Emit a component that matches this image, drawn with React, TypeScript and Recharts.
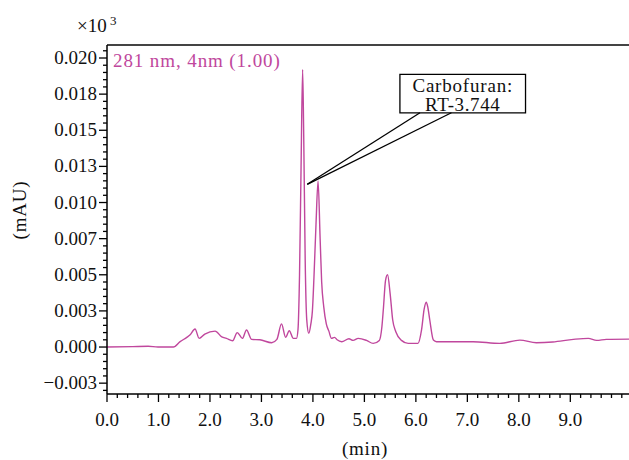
import React from 'react';
import { LineChart, Line, XAxis, YAxis, ReferenceLine, ReferenceArea } from 'recharts';

// retention time (min) and absorbance (x10^3 mAU)
const times = [
  0, 0.5, 0.8, 0.99, 1.29, 1.42, 1.55, 1.61, 1.71, 1.79, 1.9, 2.1, 2.23, 2.32, 2.44,
  2.53, 2.63, 2.71, 2.81, 2.97, 3.2, 3.3, 3.39, 3.47, 3.54, 3.62, 3.68, 3.71, 3.74,
  3.77, 3.8, 3.82, 3.85, 3.88, 3.92, 3.96, 3.99, 4.02, 4.06, 4.1, 4.14, 4.17, 4.21,
  4.26, 4.31, 4.36, 4.42, 4.47, 4.56, 4.7, 4.78, 4.88, 5.04, 5.17, 5.29, 5.34, 5.37,
  5.41, 5.45, 5.5, 5.55, 5.61, 5.72, 5.85, 6.04, 6.11, 6.16, 6.2, 6.23, 6.27, 6.34,
  6.4, 6.63, 7.11, 7.63, 8.02, 8.34, 8.66, 9.06, 9.35, 9.51, 9.7, 10.14,
];
const absorbance = [
  0, 0.00003, 0.00005, 0.0, 0.0, 0.00037, 0.00067, 0.00083, 0.00125, 0.0006, 0.0009,
  0.0011, 0.0007, 0.0006, 0.00044, 0.001, 0.0006, 0.00118, 0.00053, 0.0005, 0.0003,
  0.00053, 0.0016, 0.00067, 0.00113, 0.0006, 0.0006, 0.0012, 0.005, 0.0125, 0.0192,
  0.015, 0.006, 0.0019, 0.00095, 0.0016, 0.0025, 0.0048, 0.0085, 0.0115, 0.0075,
  0.0045, 0.0028, 0.0016, 0.0011, 0.0006, 0.00067, 0.0005, 0.00037, 0.00057, 0.00046,
  0.0006, 0.00046, 0.00025, 0.00046, 0.0014, 0.0027, 0.0046, 0.005, 0.0037, 0.00187,
  0.00106, 0.00046, 0.00025, 0.00025, 0.00118, 0.0026, 0.0031, 0.0028, 0.00187,
  0.00048, 0.00037, 0.00037, 0.00037, 0.00025, 0.00048, 0.0003, 0.00035, 0.00053,
  0.0006, 0.00046, 0.00053, 0.00055,
];

const xMajor = [0, 1, 2, 3, 4, 5, 6, 7, 8, 9];
const xLabels = ['0.0', '1.0', '2.0', '3.0', '4.0', '5.0', '6.0', '7.0', '8.0', '9.0'];
const yMajor = [-0.0025, 0, 0.0025, 0.005, 0.0075, 0.01, 0.0125, 0.015, 0.0175, 0.02];
const yLabels = ['\u22120.003', '0.000', '0.003', '0.005', '0.007', '0.010', '0.013', '0.015', '0.018', '0.020'];

const xTicks: number[] = [];
for (let i = 0; i <= 50; i++) xTicks.push(Math.round(i * 2) / 10);
const yTicks: number[] = [];
for (let i = -6; i <= 41; i++) yTicks.push(Math.round(i * 5) / 10000);

const data = times.map((t, i) => ({ t, v: absorbance[i] }));

const FONT = '"Liberation Serif", "DejaVu Serif", serif';
const PINK = '#c0479d';

const XTick = (props: any) => {
  const { x, y, payload } = props;
  const idx = xMajor.findIndex((m) => Math.abs(m - payload.value) < 1e-6);
  const major = idx >= 0;
  return (
    <g>
      <line x1={x} x2={x} y1={y} y2={y + (major ? 8 : 4)} stroke="#000" strokeWidth={1.3} />
      {major && (
        <text x={x} y={y + 32} textAnchor="middle" fontSize={19} fontFamily={FONT} fill="#111">
          {xLabels[idx]}
        </text>
      )}
    </g>
  );
};

const YTick = (props: any) => {
  const { x, y, payload } = props;
  const idx = yMajor.findIndex((m) => Math.abs(m - payload.value) < 1e-9);
  const major = idx >= 0;
  return (
    <g>
      <line x1={x - (major ? 8 : 4)} x2={x} y1={y} y2={y} stroke="#000" strokeWidth={1.3} />
      {major && (
        <text x={x - 10} y={y + 6} textAnchor="end" fontSize={19} fontFamily={FONT} fill="#111">
          {yLabels[idx]}
        </text>
      )}
    </g>
  );
};

const boxLabel = (p: any) => {
  const vb = p.viewBox;
  const cx = vb.x + vb.width / 2;
  return (
    <g>
      <text x={cx} y={vb.y + 17.5} textAnchor="middle" fontSize={19} letterSpacing={0.8} fontFamily={FONT} fill="#111">
        Carbofuran:
      </text>
      <text x={cx} y={vb.y + 36.5} textAnchor="middle" fontSize={19} letterSpacing={0.6} fontFamily={FONT} fill="#111">
        RT-3.744
      </text>
    </g>
  );
};

export default function App() {
  return (
    <div style={{ position: 'absolute', left: 0, top: 0, width: 629, height: 460, background: '#fff' }}>
      <LineChart width={629} height={460} data={data} margin={{ top: 45, right: 0, bottom: 0, left: 0 }}>
        <XAxis
          dataKey="t"
          type="number"
          domain={[0, 10.14]}
          allowDataOverflow
          ticks={xTicks}
          interval={0}
          tickSize={0}
          tickMargin={0}
          tick={<XTick />}
          height={66}
          axisLine={{ stroke: '#000', strokeWidth: 1.5 }}
        />
        <YAxis
          type="number"
          domain={[-0.00325, 0.0209]}
          allowDataOverflow
          ticks={yTicks}
          interval={0}
          tickSize={0}
          tickMargin={0}
          tick={<YTick />}
          width={107}
          axisLine={{ stroke: '#000', strokeWidth: 1.5 }}
        />
        <ReferenceLine y={0.0209} stroke="#444" strokeWidth={2} ifOverflow="visible" />
        <Line
          type="monotone"
          dataKey="v"
          stroke={PINK}
          strokeWidth={1.4}
          dot={false}
          isAnimationActive={false}
        />
        <ReferenceLine
          segment={[{ x: 3.89, y: 0.01126 }, { x: 6.08, y: 0.01621 }]}
          stroke="#000"
          strokeWidth={1.3}
        />
        <ReferenceLine
          segment={[{ x: 3.89, y: 0.01126 }, { x: 6.69, y: 0.01621 }]}
          stroke="#000"
          strokeWidth={1.3}
        />
        <ReferenceArea
          x1={5.69}
          x2={8.13}
          y1={0.01621}
          y2={0.01887}
          stroke="#000"
          strokeWidth={1.3}
          fill="#fff"
          fillOpacity={1}
          label={{ content: boxLabel }}
        />
      </LineChart>
      <svg width={629} height={460} style={{ position: 'absolute', left: 0, top: 0, pointerEvents: 'none' }}>
        <text x={113} y={67} fontSize={19} letterSpacing={0.9} fontFamily={FONT} fill={PINK}>
          281 nm, 4nm (1.00)
        </text>
        <text x={77} y={32} fontSize={19} fontFamily={FONT} fill="#111">
          ×10
        </text>
        <text x={110} y={25} fontSize={13} fontFamily={FONT} fill="#111">
          3
        </text>
        <text
          x={26}
          y={210}
          transform="rotate(-90 26 210)"
          textAnchor="middle"
          fontSize={19}
          letterSpacing={0.8}
          fontFamily={FONT}
          fill="#111"
        >
          (mAU)
        </text>
        <text x={365} y={455} textAnchor="middle" fontSize={19} letterSpacing={0.8} fontFamily={FONT} fill="#111">
          (min)
        </text>
      </svg>
    </div>
  );
}
